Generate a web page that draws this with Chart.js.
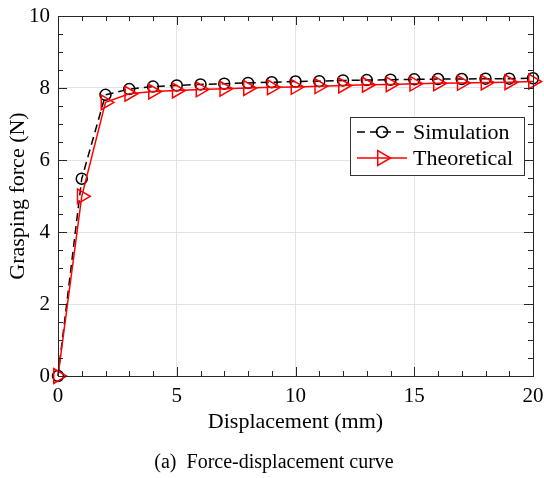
<!DOCTYPE html>
<html>
<head>
<meta charset="utf-8">
<script src="https://cdn.jsdelivr.net/npm/chart.js@4.4.0/dist/chart.umd.min.js"></script>
<style>
  html, body { margin: 0; padding: 0; background: #fff; }
  #wrap { width: 544px; height: 478px; position: relative; }
</style>
</head>
<body>
<div id="wrap"><canvas id="grafico" width="544" height="478"></canvas></div>
<script>
// data
const desplazamiento = [0, 1, 2, 3, 4, 5, 6, 7, 8, 9, 10, 11, 12, 13, 14, 15, 16, 17, 18, 19, 20];
const simulacion = [0, 5.48, 7.81, 7.97, 8.04, 8.07, 8.10, 8.12, 8.14, 8.16, 8.18, 8.19, 8.21, 8.22, 8.23, 8.24, 8.25, 8.25, 8.26, 8.26, 8.27];
const teorico = [0, 4.99, 7.60, 7.84, 7.90, 7.93, 7.96, 7.98, 8.00, 8.02, 8.03, 8.05, 8.07, 8.09, 8.10, 8.12, 8.13, 8.14, 8.15, 8.16, 8.18];
const ticksX = [0, 5, 10, 15, 20];
const ticksY = [0, 2, 4, 6, 8, 10];
const etiquetas = ['Simulation', 'Theoretical'];
const tituloX = 'Displacement (mm)';
const tituloY = 'Grasping force (N)';
const leyenda = '(a)  Force-displacement curve';

const FUENTE = "'Liberation Serif', 'Times New Roman', serif";
const EJE = '#262626';

const puntos = (ys) => desplazamiento.map((x, i) => ({ x: x, y: ys[i] }));

// sin relleno extra por las etiquetas: el área la fija layout.padding
const sinMargen = (s) => { s.paddingTop = 0; s.paddingBottom = 0; s.paddingLeft = 0; s.paddingRight = 0; };

// marcas interiores y caja (estilo MATLAB)
const cajaMarcas = {
    id: 'cajaMarcas',
    afterDatasetsDraw(chart) {
        const { ctx, chartArea: a, scales: { x, y } } = chart;
        ctx.save();
        ctx.strokeStyle = EJE;
        ctx.lineWidth = 1;
        ctx.beginPath();
        for (let v = 1; v < 20; v++) {
            const px = Math.round(x.getPixelForValue(v)) + 0.5;
            const l = v % 5 === 0 ? 9 : 5;
            ctx.moveTo(px, a.bottom); ctx.lineTo(px, a.bottom - l);
            ctx.moveTo(px, a.top); ctx.lineTo(px, a.top + l);
        }
        for (let v = 0.5; v < 10; v += 0.5) {
            const py = Math.round(y.getPixelForValue(v)) + 0.5;
            const l = v % 2 === 0 ? 9 : 5;
            ctx.moveTo(a.left, py); ctx.lineTo(a.left + l, py);
            ctx.moveTo(a.right, py); ctx.lineTo(a.right - l, py);
        }
        ctx.stroke();
        ctx.strokeRect(Math.round(a.left) + 0.5, Math.round(a.top) + 0.5,
            Math.round(a.right - a.left), Math.round(a.bottom - a.top));
        ctx.restore();
    },
    afterDraw(chart) {
        const { ctx } = chart;
        ctx.save();
        // cuadro de leyenda
        const bx = 350.5, by = 117.5, bw = 174, bh = 58;
        ctx.fillStyle = '#fff';
        ctx.fillRect(bx, by, bw, bh);
        ctx.strokeStyle = '#333';
        ctx.lineWidth = 1;
        ctx.strokeRect(bx, by, bw, bh);
        chart.data.datasets.forEach((ds, i) => {
            const cy = 132 + i * 26;
            ctx.strokeStyle = ds.borderColor;
            ctx.lineWidth = 1.5;
            ctx.setLineDash(ds.borderDash || []);
            ctx.beginPath();
            ctx.moveTo(357, cy); ctx.lineTo(407, cy);
            ctx.stroke();
            ctx.setLineDash([]);
            ctx.fillStyle = 'rgba(0,0,0,0)';
            Chart.helpers.drawPoint(ctx, {
                pointStyle: ds.pointStyle, radius: ds.pointRadius,
                rotation: ds.pointRotation || 0, borderWidth: 1.5
            }, 382, cy);
            ctx.fillStyle = '#000';
            ctx.font = '22px ' + FUENTE;
            ctx.textBaseline = 'middle';
            ctx.fillText(ds.label, 413, cy + 1);
        });
        // pie de figura
        ctx.fillStyle = '#000';
        ctx.font = '20px ' + FUENTE;
        ctx.textAlign = 'center';
        ctx.textBaseline = 'middle';
        ctx.fillText(leyenda, 274, 463);
        ctx.restore();
    }
};

const ctx = document.getElementById('grafico').getContext('2d');
const grafico = new Chart(ctx, {
    type: 'line',
    data: {
        datasets: [{
            label: etiquetas[0],
            data: puntos(simulacion),
            borderColor: '#000',
            borderWidth: 1.5,
            borderDash: [8, 5],
            pointStyle: 'circle',
            pointRadius: 5.5,
            pointBorderWidth: 1.5,
            pointBackgroundColor: 'rgba(0,0,0,0)',
            pointBorderColor: '#000',
            tension: 0,
            order: 2
        }, {
            label: etiquetas[1],
            data: puntos(teorico),
            borderColor: '#ff0000',
            borderWidth: 1.5,
            pointStyle: 'triangle',
            pointRotation: 90,
            pointRadius: 8.5,
            pointBorderWidth: 1.5,
            pointBackgroundColor: 'rgba(0,0,0,0)',
            pointBorderColor: '#ff0000',
            tension: 0,
            order: 1
        }]
    },
    options: {
        responsive: false,
        animation: false,
        clip: false,
        layout: { padding: { left: 0, right: 11, top: 16, bottom: 0 } },
        plugins: { legend: { display: false }, tooltip: { enabled: false } },
        scales: {
            x: {
                type: 'linear', min: 0, max: 20,
                afterBuildTicks: (s) => { s.ticks = ticksX.map(v => ({ value: v })); },
                afterFit: (s) => { s.height = 102; sinMargen(s); },
                ticks: { color: '#000', font: { family: FUENTE, size: 21 }, padding: 8, maxRotation: 0 },
                grid: { color: '#e3e3e3', drawTicks: false },
                border: { display: false },
                title: { display: true, text: tituloX, color: '#000', font: { family: FUENTE, size: 22 }, padding: { top: 0, bottom: 43 } }
            },
            y: {
                type: 'linear', min: 0, max: 10,
                afterBuildTicks: (s) => { s.ticks = ticksY.map(v => ({ value: v })); },
                afterFit: (s) => { s.width = 58; sinMargen(s); },
                ticks: { color: '#000', font: { family: FUENTE, size: 21 }, padding: 8 },
                grid: { color: '#e3e3e3', drawTicks: false },
                border: { display: false },
                title: { display: true, text: tituloY, color: '#000', font: { family: FUENTE, size: 22 }, padding: { top: 5, bottom: 0 } }
            }
        }
    },
    plugins: [cajaMarcas]
});
</script>
</body>
</html>
